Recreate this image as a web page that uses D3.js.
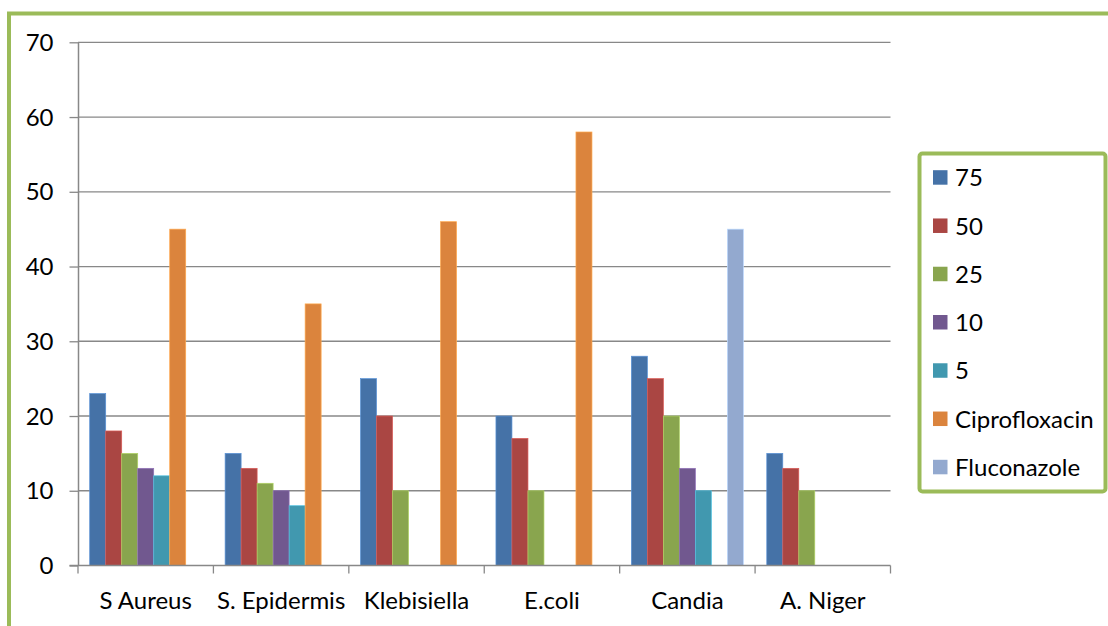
<!DOCTYPE html>
<html>
<head>
<meta charset="utf-8">
<script src="https://cdn.jsdelivr.net/npm/d3@7"></script>
<style>
  html, body { margin: 0; padding: 0; background: #fff; }
  svg { display: block; }
  text { font-family: Lato, "Open Sans", sans-serif; fill: #000; }
</style>
</head>
<body>
<svg id="chart" width="1108" height="626"></svg>
<script>
const categories = ["S Aureus", "S. Epidermis", "Klebisiella", "E.coli", "Candia", "A. Niger"];
const seriesNames = ["75", "50", "25", "10", "5", "Ciprofloxacin", "Fluconazole"];
const seriesColors = ["#4572A7", "#AA4643", "#89A54E", "#71588F", "#4198AF", "#DB843D", "#93A9CF"];
const s75 = [23, 15, 25, 20, 28, 15];
const s50 = [18, 13, 20, 17, 25, 13];
const s25 = [15, 11, 10, 10, 20, 10];
const s10 = [13, 10, null, null, 13, null];
const s5 = [12, 8, null, null, 10, null];
const sCipro = [45, 35, 46, 58, null, null];
const sFluco = [null, null, null, null, 45, null];
const yTicks = [0, 10, 20, 30, 40, 50, 60, 70];

const seriesValues = [s75, s50, s25, s10, s5, sCipro, sFluco];

const svg = d3.select("#chart");
const FONT = 24;

// outer frame
svg.append("rect")
  .attr("x", 9).attr("y", 13.5)
  .attr("width", 1130).attr("height", 700)
  .attr("fill", "none").attr("stroke", "#9BBB59").attr("stroke-width", 4);

const plot = { left: 78, right: 890.5, top: 42.3, bottom: 565.5 };

const x = d3.scaleBand().domain(categories).range([plot.left, plot.right]).paddingInner(0).paddingOuter(0);
const y = d3.scaleLinear().domain([0, 70]).range([plot.bottom, plot.top]);
const innerPad = 11.7;
const xs = d3.scaleBand().domain(seriesNames).range([innerPad, x.bandwidth() - innerPad]).padding(0);

// gridlines
const grid = svg.append("g");
grid.selectAll("line").data(yTicks.filter(t => t > 0)).join("line")
  .attr("x1", plot.left).attr("x2", plot.right)
  .attr("y1", d => y(d)).attr("y2", d => y(d))
  .attr("stroke", "#888").attr("stroke-width", 1.3);

// bars
const groups = svg.append("g").selectAll("g").data(seriesNames).join("g")
  .attr("fill", (d, i) => seriesColors[i])
  .attr("stroke", (d, i) => d3.color(seriesColors[i]).brighter(0.7))
  .attr("stroke-width", 0.7);
groups.selectAll("rect")
  .data((s, i) => categories.map((c, j) => ({ c, s, v: seriesValues[i][j] })).filter(d => d.v != null))
  .join("rect")
  .attr("x", d => x(d.c) + xs(d.s))
  .attr("width", xs.bandwidth())
  .attr("y", d => y(d.v))
  .attr("height", d => y(0) - y(d.v));

// y axis
const yAxis = d3.axisLeft(y).tickValues(yTicks).tickSize(8.5).tickSizeOuter(0).tickPadding(16);
const gy = svg.append("g").attr("transform", `translate(${plot.left},0)`).call(yAxis);
gy.select(".domain").attr("stroke", "#888").attr("stroke-width", 1.5);
gy.selectAll(".tick line").attr("stroke", "#888").attr("stroke-width", 1.3);
gy.selectAll(".tick text").attr("font-size", FONT).attr("font-family", "Lato").attr("fill", "#000").attr("dy", "0.34em");

// x axis
const gx = svg.append("g").attr("transform", `translate(0,${plot.bottom})`);
gx.append("line").attr("x1", plot.left - 8.5).attr("x2", plot.right).attr("y1", 0).attr("y2", 0)
  .attr("stroke", "#888").attr("stroke-width", 1.5);
const bounds = categories.map(c => x(c)).concat([plot.right]);
gx.selectAll("line.tk").data(bounds).join("line").attr("class", "tk")
  .attr("x1", d => d).attr("x2", d => d).attr("y1", 0).attr("y2", 8)
  .attr("stroke", "#888").attr("stroke-width", 1.3);
gx.selectAll("text").data(categories).join("text")
  .attr("x", d => x(d) + x.bandwidth() / 2)
  .attr("y", 43)
  .attr("text-anchor", "middle")
  .attr("font-size", FONT)
  .text(d => d);

// legend
const lg = svg.append("g");
lg.append("rect").attr("x", 919.5).attr("y", 153.5).attr("width", 186).attr("height", 338)
  .attr("rx", 3).attr("fill", "#fff").attr("stroke", "#9BBB59").attr("stroke-width", 4);
const rowY = d3.scalePoint().domain(seriesNames).range([177.7, 467.3]);
const items = lg.selectAll("g.item").data(seriesNames).join("g").attr("class", "item")
  .attr("transform", d => `translate(933,${rowY(d)})`);
items.append("rect").attr("x", 0).attr("y", -7.5).attr("width", 14.5).attr("height", 14.5)
  .attr("fill", (d, i) => seriesColors[i]);
items.append("text").attr("x", 22).attr("y", 0).attr("dy", "0.36em")
  .attr("font-size", FONT).text(d => d);
</script>
</body>
</html>
